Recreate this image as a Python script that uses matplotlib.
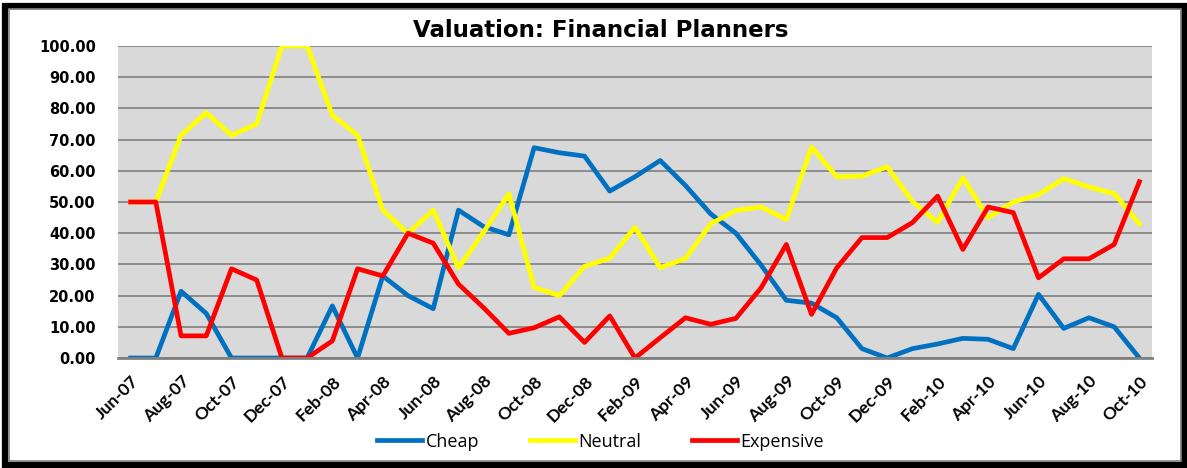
import numpy as np
import matplotlib.pyplot as plt
from matplotlib.patches import Rectangle

months = ["Jun-07", "Jul-07", "Aug-07", "Sep-07", "Oct-07", "Nov-07", "Dec-07",
          "Jan-08", "Feb-08", "Mar-08", "Apr-08", "May-08", "Jun-08", "Jul-08",
          "Aug-08", "Sep-08", "Oct-08", "Nov-08", "Dec-08", "Jan-09", "Feb-09",
          "Mar-09", "Apr-09", "May-09", "Jun-09", "Jul-09", "Aug-09", "Sep-09",
          "Oct-09", "Nov-09", "Dec-09", "Jan-10", "Feb-10", "Mar-10", "Apr-10",
          "May-10", "Jun-10", "Jul-10", "Aug-10", "Sep-10", "Oct-10"]

cheap = [0, 0, 21.4, 14.3, 0, 0, 0, 0, 16.7, 0, 26.3, 20.0, 15.8, 47.4, 42.1,
         39.5, 67.4, 65.8, 64.7, 53.5, 58.1, 63.3, 55.3, 46.2, 40.0, 29.8, 18.5,
         17.6, 12.9, 3.0, 0, 3.0, 4.5, 6.3, 6.0, 3.0, 20.4, 9.5, 12.9, 10.0, 0]

neutral = [50, 50, 71.4, 78.6, 71.4, 75.0, 100, 100, 77.8, 71.4, 47.4, 40.0,
           47.4, 28.9, 40.4, 52.6, 22.6, 20.0, 29.4, 32.0, 41.9, 29.0, 31.9,
           43.0, 47.3, 48.4, 44.4, 67.6, 58.1, 58.3, 61.3, 50.2, 43.5, 57.8,
           45.0, 50.0, 52.4, 57.5, 54.8, 52.7, 43.0]

expensive = [50, 50, 7.1, 7.1, 28.6, 25.0, 0, 0, 5.5, 28.6, 26.3, 40.0, 36.8,
             23.7, 16.1, 7.9, 9.7, 13.2, 5.0, 13.5, 0, 6.5, 12.9, 10.8, 12.7,
             22.5, 36.4, 14.0, 28.9, 38.6, 38.6, 43.4, 51.9, 34.8, 48.4, 46.6,
             25.7, 31.8, 31.8, 36.4, 56.5]

fig = plt.figure(figsize=(11.87, 4.68), dpi=100)
ax = fig.add_axes([0.0994, 0.235, 0.8711, 0.6667])

x = np.arange(len(months))
ax.plot(x, cheap, color="#0070C0", lw=3.4, label="Cheap")
ax.plot(x, neutral, color="#FFFF00", lw=3.4, label="Neutral")
ax.plot(x, expensive, color="#FF0000", lw=3.4, label="Expensive")

ax.set_facecolor("#D9D9D9")
ax.set_xlim(-0.5, len(months) - 0.5)
ax.set_ylim(0, 100)
ax.set_yticks(np.arange(0, 101, 10))
ax.set_yticklabels([f"{v:.2f}" for v in np.arange(0, 101, 10)],
                   fontsize=10.5, fontweight="bold", family="DejaVu Sans")
ax.grid(axis="y", color="#808080", lw=1.2)
ax.set_axisbelow(True)
ax.tick_params(axis="y", length=0, pad=16)
ax.tick_params(axis="x", length=0, pad=11)
ax.set_xticks(x[::2])
ax.set_xticklabels(months[::2], rotation=45, ha="right", rotation_mode="anchor",
                   fontsize=12.5, fontweight="bold", family="Lato")
for s in ["top", "right", "left"]:
    ax.spines[s].set_visible(False)
ax.spines["bottom"].set_color("#808080")
ax.spines["bottom"].set_linewidth(2)

fig.text(0.506, 0.935, "Valuation: Financial Planners", ha="center", va="center",
         fontsize=16.5, fontweight="bold", family="DejaVu Sans")

fig.legend(loc="center", bbox_to_anchor=(0.506, 0.056), ncol=3, frameon=False,
           prop={"family": "Open Sans", "size": 13}, handlelength=2.5,
           columnspacing=2.8, handletextpad=0.2)

fig.patches.append(Rectangle((5 / 1187, 3 / 468), 1179 / 1187, 459 / 468,
                             transform=fig.transFigure, fill=False,
                             edgecolor="black", lw=4.5))
fig.patches.append(Rectangle((9.5 / 1187, 7 / 468), 1171 / 1187, 452 / 468,
                             transform=fig.transFigure, fill=False,
                             edgecolor="#808080", lw=1.2))

fig.savefig("out.png", dpi=100)
